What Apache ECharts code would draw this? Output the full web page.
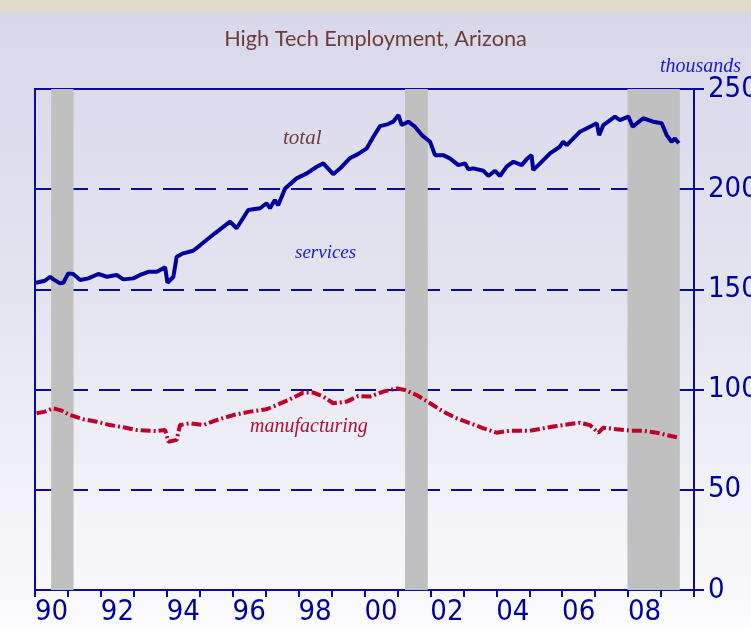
<!DOCTYPE html>
<html>
<head>
<meta charset="utf-8">
<script src="https://cdn.jsdelivr.net/npm/echarts@6/dist/echarts.min.js"></script>
<style>
  html, body { margin: 0; padding: 0; }
  #chart {
    width: 751px; height: 628px;
    background: linear-gradient(to bottom, #e2dacd 0px, #e2dacd 12px, #d8d8ea 13px, #e4e4f0 300px, #fbfbfd 628px);
  }
</style>
</head>
<body>
<div id="chart"></div>
<script>
(function() {
  var blue = '#0a0aa0';
  var ink = '#00009c';
  var red = '#c00028';
  var brown = '#6e3b3b';
  var narrow = '"DejaVu Sans Condensed", "Liberation Sans Narrow", "Liberation Sans", sans-serif';

  // --- Data (decimal years, thousands) ---
  var years = ['1990','1991','1992','1993','1994','1995','1996','1997','1998','1999',
               '2000','2001','2002','2003','2004','2005','2006','2007','2008','2009'];
  var recessions = [[1990.49, 1991.17], [2001.23, 2001.92], [2007.98, 2009.57]];

  var totalDates = [1990.03,1990.30,1990.46,1990.56,1990.76,1990.86,1991.01,1991.16,1991.37,1991.62,
    1991.92,1992.18,1992.48,1992.68,1992.98,1993.19,1993.44,1993.70,1993.95,1994.02,
    1994.20,1994.30,1994.50,1994.80,1995.01,1995.46,1995.92,1996.12,1996.47,1996.83,
    1997.03,1997.13,1997.28,1997.38,1997.59,1997.94,1998.25,1998.55,1998.75,1999.05,
    1999.30,1999.55,1999.80,2000.07,2000.27,2000.47,2000.72,2000.87,2001.03,2001.13,
    2001.33,2001.53,2001.74,2001.99,2002.14,2002.39,2002.59,2002.85,2003.05,2003.15,
    2003.30,2003.61,2003.76,2003.96,2004.11,2004.32,2004.52,2004.77,2004.92,2005.07,
    2005.12,2005.33,2005.63,2005.93,2006.03,2006.14,2006.54,2006.84,2007.05,2007.12,
    2007.25,2007.60,2007.75,2008.01,2008.14,2008.46,2008.76,2009.02,2009.17,2009.32,
    2009.42,2009.54];
  var totalValues = [153.3,154.3,156.3,155,153,153.3,158,157.7,154.7,155.5,
    157.7,156.3,157.2,155,155.5,157.2,158.8,158.8,161,153.3,
    156.3,166.3,168,169.3,172,178,183.8,180.5,189.6,190.5,
    193,190.5,194.6,192,200.4,205.4,207.9,211.2,212.9,207.5,
    211,215.4,217.5,220.4,226.2,231.5,232.5,233.7,237,232,
    233.7,231.2,227,223.7,217,217,215.4,212,212.9,210,
    210.4,209.2,206.6,209.2,206.6,211.4,213.7,212,214.9,217,
    209.6,212.9,217.9,221.2,223.7,222,228.7,231.2,232.9,227,
    232,236.2,234.5,236.2,231.2,235.4,233.7,232.9,227,223.7,
    225.3,222.9];

  var mfgDates = [1990.05,1990.30,1990.56,1990.81,1991.06,1991.47,1991.87,1992.28,1992.68,1993.09,
    1993.49,1993.69,1993.95,1994.05,1994.30,1994.40,1994.70,1995.11,1995.51,1996.02,
    1996.53,1997.03,1997.34,1997.74,1998.14,1998.45,1998.75,1999.05,1999.46,1999.81,
    2000.17,2000.57,2000.98,2001.23,2001.58,2001.99,2002.39,2002.80,2003.20,2003.61,
    2004.01,2004.42,2005.02,2005.43,2005.83,2006.24,2006.54,2006.84,2007.10,2007.25,
    2007.65,2008.06,2008.46,2008.87,2009.17,2009.48];
  var mfgValues = [88.2,89,90.7,89.5,87.3,85.2,84,82.3,81.2,79.8,
    79.5,79.3,79.8,74,74.9,82.3,83.2,82.3,84.8,87.3,
    89,90.2,92.3,95.2,98.5,98.5,96.5,93.2,94,96.8,
    96.5,99,100.6,99.8,97.3,93.2,89,85.7,83.2,80.7,
    78.5,79.5,79.5,80.7,81.8,82.8,83.5,82.3,78.5,81,
    80.2,79.5,79.5,78.5,77.3,76.2];

  function pairs(xs, ys) { return xs.map(function(x, i) { return [x, ys[i]]; }); }

  var chart = echarts.init(document.getElementById('chart'), null, { renderer: 'canvas' });
  chart.setOption({
    animation: false,
    backgroundColor: 'transparent',
    grid: {
      left: 35, right: 57, top: 89, bottom: 38, outerBoundsMode: 'none', containLabel: false,
      show: true, borderColor: blue, borderWidth: 2, backgroundColor: 'transparent'
    },
    xAxis: [
      {
        type: 'value', min: 1990, max: 2010, interval: 1,
        axisLine: { show: true, lineStyle: { color: blue, width: 2 } },
        axisTick: { show: true, inside: false, length: 7, lineStyle: { color: blue, width: 2 } },
        axisLabel: { show: false },
        splitLine: { show: false }
      },
      {
        type: 'category', data: years, position: 'bottom', boundaryGap: true,
        axisLine: { show: false }, axisTick: { show: false }, splitLine: { show: false },
        axisLabel: {
          interval: 1, margin: 8, color: ink, fontSize: 29, fontFamily: narrow,
          formatter: function(v) { return v.slice(2); }
        }
      }
    ],
    yAxis: {
      type: 'value', position: 'right', min: 0, max: 250, interval: 50,
      axisLine: { show: true, lineStyle: { color: blue, width: 2 } },
      axisTick: { show: true, inside: false, length: 10, lineStyle: { color: blue, width: 2 } },
      axisLabel: { margin: 14, color: ink, fontSize: 29, fontFamily: narrow },
      splitLine: { show: true, lineStyle: { color: blue, width: 2, type: [21, 11] } }
    },
    graphic: [
      { type: 'text', left: 'center', top: 28, style: { text: 'High Tech Employment, Arizona', fill: brown, font: '21.7px Lato, "Open Sans", sans-serif' } },
      { type: 'text', right: 10, top: 57, style: { text: 'thousands', fill: '#1a1ad0', font: 'italic 20px "Liberation Serif", serif' } },
      { type: 'text', x: 283, y: 128, style: { text: 'total', fill: brown, font: 'italic 21px "Liberation Serif", serif' } },
      { type: 'text', x: 295, y: 243, style: { text: 'services', fill: '#1a1ad0', font: 'italic 19px "Liberation Serif", serif' } },
      { type: 'text', x: 250, y: 417, style: { text: 'manufacturing', fill: '#b01030', font: 'italic 20px "Liberation Serif", serif' } }
    ],
    series: [
      {
        name: 'recessions', type: 'line', data: [], z: -1, silent: true,
        markArea: {
          silent: true,
          itemStyle: { color: '#c0c0c0' },
          data: recessions.map(function(r) { return [{ xAxis: r[0] }, { xAxis: r[1] }]; })
        }
      },
      {
        name: 'total', type: 'line', data: pairs(totalDates, totalValues),
        showSymbol: false, lineStyle: { color: ink, width: 4 }, z: 3
      },
      {
        name: 'manufacturing', type: 'line', data: pairs(mfgDates, mfgValues),
        showSymbol: false, lineStyle: { color: red, width: 4, type: [10, 3, 2, 3] }, z: 3
      }
    ]
  });
  window.addEventListener('resize', function() { chart.resize(); });
})();
</script>
</body>
</html>
